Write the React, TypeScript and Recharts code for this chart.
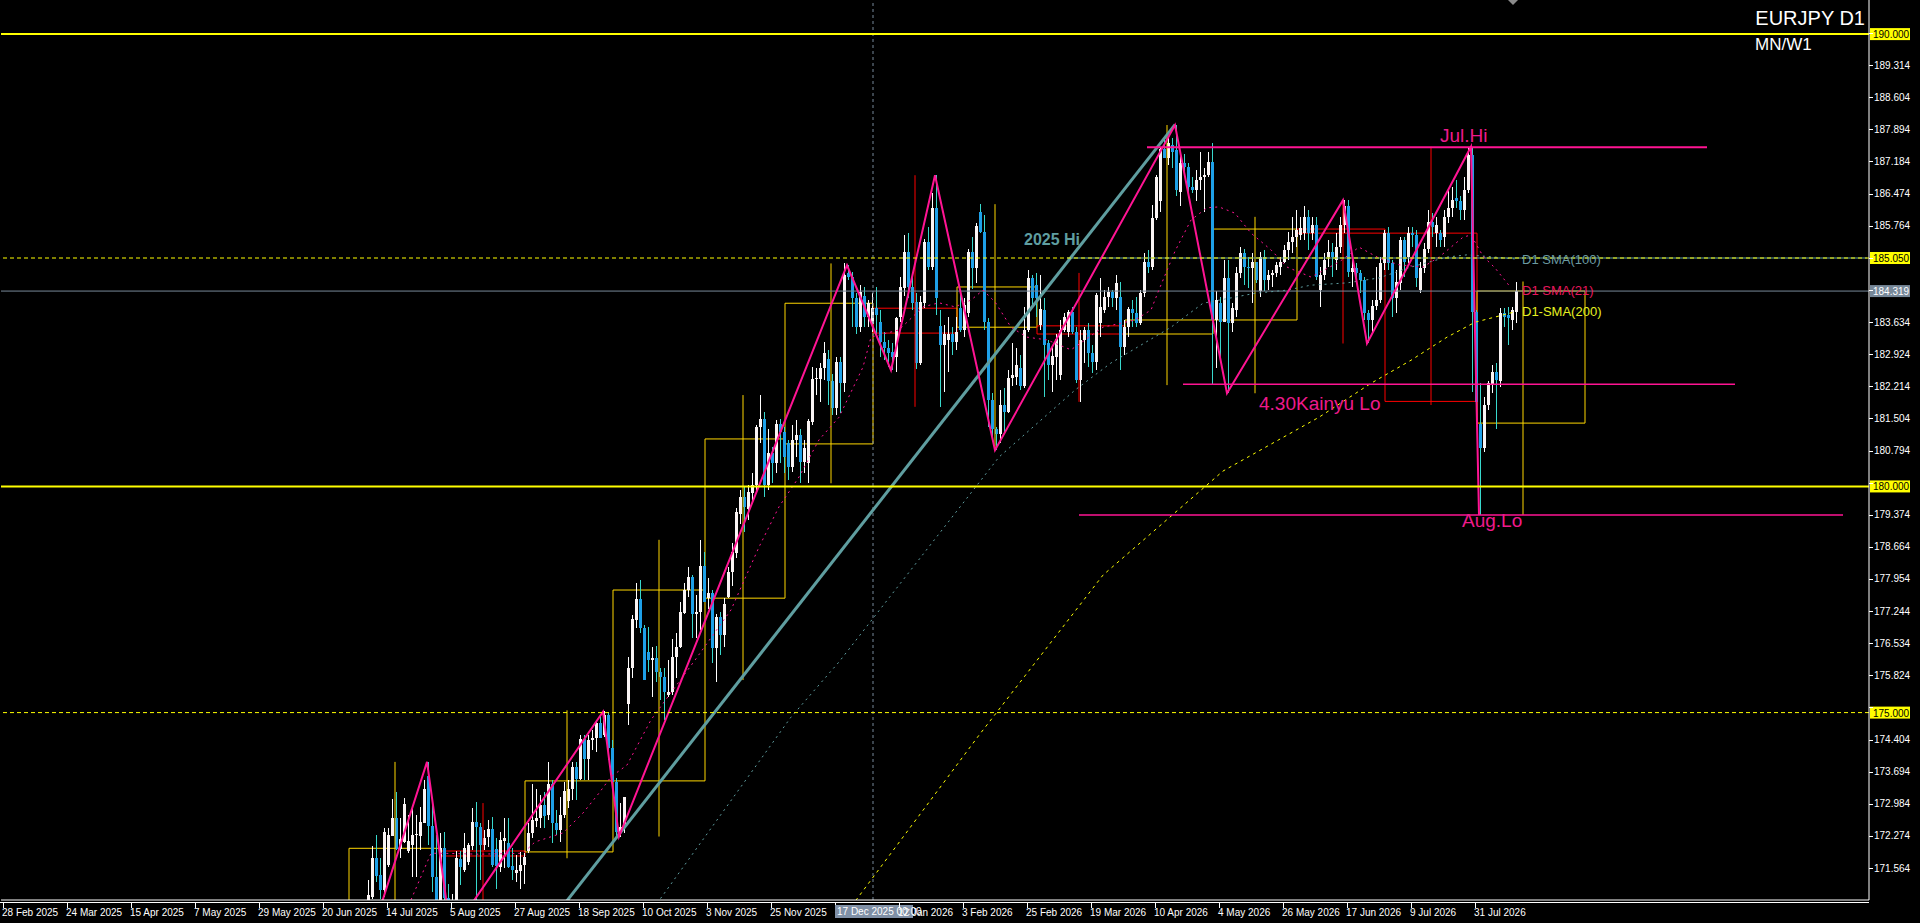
import React from "react";
import { ComposedChart, Bar, Line, XAxis, YAxis, ReferenceLine, ReferenceArea, ReferenceDot } from "recharts";

// ---------- DATA ----------
const FIRST_BAR = 91; // bar index of the first visible daily candle (28 Feb 2025 = 0)
const TOTAL_SLOTS = 467;

// [open, high, low, close] per daily bar, starting at FIRST_BAR
const candles: [number, number, number, number][] = [
  [170.86,171.31,170.80,170.97],[170.93,172.04,170.89,171.79],[171.79,172.29,171.26,171.39],[171.41,171.79,170.89,171.08],
  [171.08,172.44,170.93,172.37],[171.63,172.44,171.59,172.29],[172.27,173.10,172.27,172.66],[172.66,173.25,171.96,171.99],
  [171.99,172.66,171.78,172.20],[172.15,173.12,172.11,172.98],[171.93,172.73,171.89,172.16],[172.07,172.92,171.37,172.29],
  [172.29,172.73,171.37,172.31],[172.28,172.92,171.96,172.59],[172.57,173.51,172.55,173.32],[173.60,173.91,172.07,172.50],
  [172.50,173.07,171.04,171.37],[171.37,172.29,170.60,170.80],[170.86,172.33,170.70,172.00],[172.00,172.37,170.60,170.90],
  [170.90,171.20,170.00,170.30],[170.30,171.00,169.90,170.70],[170.70,171.93,170.50,171.78],[171.76,171.93,171.19,171.59],
  [171.52,172.33,171.48,172.00],[171.70,172.11,171.63,172.07],[172.06,172.88,171.96,172.59],[172.59,173.02,170.86,172.48],
  [172.48,172.55,171.30,172.07],[172.07,172.41,171.96,172.23],[172.24,172.62,172.03,172.42],[172.42,172.70,171.59,171.63],
  [171.98,172.22,171.11,171.61],[171.59,172.37,171.48,172.18],[172.17,172.66,171.56,172.23],[172.11,172.66,171.56,171.59],
  [171.61,172.00,171.30,171.53],[171.45,171.85,171.26,171.52],[171.50,171.92,171.11,171.64],[171.64,171.89,171.22,171.81],
  [171.94,172.55,171.89,172.33],[172.33,173.42,172.22,172.62],[172.61,173.32,172.48,172.68],[172.66,173.18,172.44,172.96],
  [172.96,173.25,172.44,172.71],[172.73,173.91,172.62,173.42],[173.42,173.51,172.11,172.55],[172.55,172.84,172.29,172.40],
  [172.40,173.14,172.15,172.73],[172.73,173.47,172.66,173.27],[173.05,173.51,172.88,173.32],[173.30,173.91,173.07,173.79],
  [173.79,173.91,173.07,173.53],[173.53,174.50,173.51,174.41],[174.41,174.50,173.51,173.97],[173.97,174.50,173.51,174.39],
  [174.39,174.61,174.17,174.43],[174.43,174.84,174.14,174.78],[174.78,174.95,174.44,174.44],[174.50,175.04,174.47,174.95],
  [174.95,175.02,173.95,174.21],[174.21,174.39,173.44,173.47],[173.47,173.55,172.26,172.37],[172.37,173.00,172.26,172.48],
  [172.48,173.13,172.33,173.13],[175.20,176.24,174.72,175.98],[175.98,177.16,175.76,177.07],[177.05,177.86,176.86,177.51],
  [177.51,177.93,176.75,176.86],[176.86,176.93,175.72,175.72],[176.35,176.90,175.90,176.16],[176.16,176.46,175.35,176.20],
  [176.20,176.47,175.68,175.90],[175.90,175.98,175.28,175.79],[175.79,175.98,174.84,175.46],[175.39,176.16,175.35,175.46],
  [175.46,176.62,175.39,176.24],[176.24,176.75,175.76,176.46],[176.44,177.45,176.42,177.23],[177.21,177.86,177.19,177.72],
  [177.71,178.22,177.56,178.00],[178.00,178.04,176.64,177.19],[177.19,177.60,176.64,177.23],[177.23,178.82,176.83,178.24],
  [178.24,178.56,177.45,177.45],[177.53,177.97,177.30,177.64],[177.64,177.71,176.09,176.42],[176.42,177.19,175.68,177.12],
  [177.12,177.23,176.27,176.72],[176.72,177.53,176.46,177.40],[177.56,178.22,177.53,178.11],[178.11,178.74,177.80,178.56],
  [178.52,179.52,178.41,179.44],[179.40,179.92,179.18,179.77],[179.77,179.99,179.00,179.55],[179.51,180.03,179.26,179.88],
  [179.85,180.30,179.63,180.03],[180.03,181.36,179.85,181.32],[181.32,182.02,180.95,181.50],[181.50,181.65,179.77,180.03],
  [180.03,181.28,179.92,180.73],[180.73,180.88,180.07,180.51],[180.51,181.47,180.29,181.39],[181.39,181.50,180.51,181.21],
  [181.21,181.32,180.29,180.66],[180.95,181.02,180.14,180.44],[180.44,181.36,180.33,181.02],[181.02,181.47,180.66,181.13],
  [181.13,181.28,180.07,180.55],[180.55,181.02,180.29,180.84],[180.51,181.50,180.07,181.45],[181.43,182.65,181.36,182.37],
  [182.37,182.61,182.02,182.39],[182.37,182.72,181.87,182.61],[182.61,183.20,182.35,182.94],[182.81,183.02,181.80,182.34],
  [182.34,182.48,181.58,181.73],[181.73,182.87,181.58,182.76],[182.76,182.87,181.62,182.28],[182.28,184.93,182.09,184.67],
  [184.71,184.89,184.56,184.64],[184.64,184.75,183.53,184.16],[184.16,184.27,183.38,183.53],[183.53,184.45,183.42,184.30],
  [184.20,184.42,183.53,183.75],[183.75,184.12,183.53,184.05],[183.60,184.27,183.42,183.94],[183.94,184.42,183.31,183.79],
  [183.64,183.90,182.87,183.20],[183.20,183.42,182.79,183.05],[183.05,183.24,182.65,182.94],[182.98,183.16,182.57,182.87],
  [182.87,183.75,182.54,183.72],[183.75,184.64,183.64,184.42],[184.38,185.56,184.20,185.19],[185.19,185.60,184.16,184.42],
  [184.42,184.64,183.90,184.05],[184.08,184.27,182.60,182.72],[182.72,184.20,182.68,184.08],[184.05,185.48,183.94,185.41],
  [185.41,185.74,184.78,184.86],[184.86,186.48,184.78,186.15],[186.15,186.88,183.79,184.16],[183.55,183.90,181.76,183.13],
  [183.13,183.57,182.09,183.38],[183.24,183.75,182.54,183.38],[183.38,183.53,182.90,183.20],[183.20,183.75,183.02,183.42],
  [183.94,184.27,183.42,183.46],[183.46,184.16,183.30,184.01],[183.83,185.26,183.75,185.19],[185.19,185.52,184.36,184.82],
  [184.82,185.82,184.49,185.76],[186.07,186.24,185.60,185.63],[185.63,186.00,183.46,183.64],[183.64,183.72,181.32,181.91],
  [181.91,182.06,181.10,181.28],[181.28,181.32,180.80,181.17],[181.17,182.13,180.95,181.80],[181.80,182.17,181.17,181.65],
  [181.65,182.57,181.62,182.39],[182.39,183.16,182.21,182.46],[182.42,183.05,182.24,182.68],[182.61,182.91,182.13,182.21],
  [182.21,183.97,182.17,183.46],[183.46,184.78,183.42,184.60],[184.60,184.67,183.97,184.16],[184.45,184.71,183.75,184.16],
  [183.57,184.67,183.46,183.92],[183.90,184.16,181.98,183.13],[183.16,183.24,182.35,182.68],[182.68,183.13,182.09,182.88],
  [182.87,183.38,182.35,183.25],[182.46,183.68,182.35,183.46],[183.46,183.83,183.42,183.75],[183.42,183.90,183.31,183.85],
  [183.85,183.97,183.38,183.42],[183.42,183.53,182.28,182.35],[182.35,183.46,181.87,183.24],[183.24,183.53,182.72,183.46],
  [183.46,183.61,182.65,182.94],[182.94,183.12,182.50,182.76],[182.76,184.27,182.57,184.23],[183.61,184.60,183.31,183.97],
  [183.90,184.34,183.83,184.19],[184.19,184.42,183.97,184.30],[184.30,184.34,183.97,184.16],[184.16,184.67,183.90,184.49],
  [184.19,184.53,182.57,183.09],[183.09,183.68,182.90,183.53],[183.53,183.97,183.31,183.93],[183.93,184.12,183.53,183.83],
  [183.83,184.19,183.53,183.61],[183.61,184.34,183.58,184.27],[184.27,185.15,184.19,184.97],[184.97,185.23,184.71,184.86],
  [184.86,186.22,184.79,185.93],[185.93,186.88,185.89,186.85],[186.30,187.51,186.07,187.47],[187.47,187.70,187.25,187.25],
  [187.25,187.70,187.11,187.59],[187.55,187.70,187.03,187.40],[187.44,187.99,186.41,186.55],[186.50,187.30,186.20,187.16],
  [187.16,187.36,186.85,187.07],[187.07,187.14,186.41,186.63],[186.63,186.85,186.48,186.55],[186.55,186.99,186.30,186.77],
  [186.77,187.40,186.55,186.85],[186.85,187.03,186.07,186.88],[186.88,187.40,186.85,187.18],[187.18,187.59,182.24,183.68],
  [183.68,184.31,182.61,184.12],[184.05,184.19,182.79,183.64],[183.64,185.01,183.64,184.60],[184.60,185.01,182.06,183.61],
  [183.61,184.05,183.42,183.94],[183.90,184.86,183.75,184.71],[184.71,185.30,184.60,185.15],[185.15,185.26,184.45,184.86],
  [184.86,185.08,184.38,184.82],[184.82,185.15,184.05,184.97],[184.97,184.97,184.49,184.56],[184.31,185.19,184.19,185.08],
  [185.08,185.23,184.31,184.56],[184.56,184.79,184.34,184.67],[184.67,184.79,184.42,184.71],[184.71,184.97,184.64,184.90],
  [184.86,185.08,184.67,184.97],[184.97,185.34,184.93,185.23],[185.23,185.63,185.01,185.41],[185.41,185.96,185.15,185.52],
  [185.52,186.11,185.30,185.67],[185.56,185.96,185.45,185.71],[185.60,186.19,185.45,185.96],[185.96,186.11,185.23,185.60],
  [185.60,185.96,185.45,185.78],[185.78,185.96,184.56,184.64],[184.34,184.86,183.97,184.67],[184.67,185.15,184.56,185.01],
  [185.08,185.45,184.86,185.19],[185.19,185.38,184.64,185.08],[185.01,185.60,184.78,185.30],[185.30,185.96,185.15,185.78],
  [185.78,186.33,185.60,186.19],[186.19,186.33,184.64,184.75],[184.75,185.08,184.42,184.82],[184.82,184.93,184.49,184.71],
  [184.71,184.78,184.27,184.56],[184.56,184.64,183.68,183.83],[183.83,183.90,183.16,183.68],[183.68,184.12,183.38,184.00],
  [184.00,184.86,183.90,184.12],[184.12,185.08,184.05,184.93],[184.93,185.67,184.78,185.60],[185.60,185.74,184.78,184.93],
  [184.93,185.01,183.75,184.16],[184.16,184.78,183.83,184.52],[184.49,185.52,184.34,185.45],[185.45,185.52,184.64,184.97],
  [185.08,185.74,184.93,185.60],[185.60,185.74,185.30,185.56],[185.56,185.67,184.42,184.60],[184.34,184.97,184.27,184.82],
  [184.82,185.38,184.71,185.26],[185.26,186.11,185.15,185.85],[185.85,186.04,185.52,185.74],[185.60,185.96,185.30,185.78],
  [185.60,185.67,185.30,185.45],[185.52,186.11,185.30,185.96],[185.96,186.55,185.82,186.15],[186.15,186.63,185.96,186.33],
  [186.37,186.77,186.15,186.30],[186.30,186.41,185.89,186.11],[186.11,186.85,185.89,186.55],[186.55,187.51,186.48,187.33],
  [187.33,187.51,182.09,183.86],[183.86,183.90,181.80,181.87],[181.39,182.28,179.37,180.84],[180.84,181.98,180.77,181.80],
  [181.80,182.32,181.70,182.28],[182.24,182.68,182.06,182.54],[182.54,182.72,181.28,182.35],[182.32,183.94,182.20,183.83],
  [183.83,183.94,183.53,183.75],[183.80,183.97,183.13,183.72],[183.68,183.97,183.46,183.90],[183.86,184.53,183.61,184.32],
];

const xTickIndex = [0,16,32,48,64,80,96,112,128,144,160,176,192,208,224,240,256,272,288,304,320,336,352,368];
const xTickLabels = ["28 Feb 2025","24 Mar 2025","15 Apr 2025","7 May 2025","29 May 2025","20 Jun 2025","14 Jul 2025","5 Aug 2025","27 Aug 2025","18 Sep 2025","10 Oct 2025","3 Nov 2025","25 Nov 2025","17 Dec 2025","12 Jan 2026","3 Feb 2026","25 Feb 2026","19 Mar 2026","10 Apr 2026","4 May 2026","26 May 2026","17 Jun 2026","9 Jul 2026","31 Jul 2026"];
const cursorTickIndex = 208;
const cursorLabel = "17 Dec 2025 00:00";

const yTicks = [190.024,189.314,188.604,187.894,187.184,186.474,185.764,185.054,184.344,183.634,182.924,182.214,181.504,180.794,180.084,179.374,178.664,177.954,177.244,176.534,175.824,175.114,174.404,173.694,172.984,172.274,171.564];
const yDomain = [170.857, 190.754];

// [bar index, value]
const sma21: [number, number][] = [
  [102,170.86],[107,171.89],[110,171.89],[119,171.87],[130,171.89],[133,172.14],[140,172.34],[145,172.78],[149,173.22],
  [152,173.58],[156,173.84],[162,174.84],[173,176.16],[182,177.27],[189,178.66],[194,179.55],[199,180.21],[204,181.03],
  [209,181.53],[215,182.64],[217,183.30],[224,183.46],[230,183.97],[234,184.06],[238,183.97],[242,184.12],[245,184.34],
  [248,184.08],[252,183.52],[256,183.30],[261,183.24],[267,183.02],[275,183.52],[283,183.68],[287,183.90],[289,184.35],
  [293,185.20],[297,185.89],[301,186.16],[304,186.18],[308,186.04],[312,185.60],[317,185.23],[321,184.85],[327,184.63],
  [334,184.96],[339,185.29],[344,185.05],[349,184.90],[355,184.85],[359,185.07],[365,185.51],[367,185.56],[370,185.09],
  [373,184.83],[377,184.39],
];
const sma100: [number, number][] = [
  [160,170.35],[197,174.90],[209,176.12],[249,180.65],[268,182.13],[277,182.73],[292,183.52],[300,184.05],[313,184.27],
  [321,184.34],[327,184.45],[336,184.50],[344,184.61],[352,184.85],[361,185.07],[366,185.12],[373,185.07],[378,185.03],
];
const sma200: [number, number][] = [
  [209,170.35],[244,174.50],[275,178.04],[305,180.34],[329,181.53],[342,182.28],[352,182.79],[361,183.30],[368,183.63],[378,183.86],
];
const zigzag: [number, number][] = [
  [92,170.05],[106,173.91],[112,170.10],[150,175.02],[154,172.26],[211,184.89],[222,182.57],[233,186.88],
  [248,180.80],[293,187.99],[306,182.06],[335,186.33],[341,183.16],[367,187.51],[369,179.37],
];
const trendline: [number, number][] = [[130,169.60],[293,188.00]];

const solidLevels = [190.0, 180.0];
const dashedLevels = [185.05, 175.0];
const bidPrice = 184.319;
const smaLevel = { price: 185.05, from: 266, to: 466 };
const separatorIndex = 218;

// monthly (MN) candles: first bar, last bar, wick bar, open, high, low, close
const monthBoxes = [
  { first: 87, last: 109, wick: 98, o: 169.30, h: 173.91, l: 168.90, c: 172.00 },
  { first: 110, last: 130, wick: 120, o: 171.94, h: 173.00, l: 169.90, c: 171.83 },
  { first: 131, last: 152, wick: 141, o: 171.92, h: 175.05, l: 171.78, c: 173.49 },
  { first: 153, last: 175, wick: 164, o: 173.49, h: 178.82, l: 172.26, c: 177.71 },
  { first: 176, last: 195, wick: 185, o: 177.53, h: 182.02, l: 175.72, c: 181.05 },
  { first: 196, last: 217, wick: 207, o: 180.94, h: 184.93, l: 180.07, c: 184.05 },
  { first: 218, last: 238, wick: 228, o: 183.94, h: 186.88, l: 181.76, c: 183.39 },
  { first: 239, last: 258, wick: 248, o: 183.52, h: 186.24, l: 180.80, c: 184.41 },
  { first: 259, last: 280, wick: 269, o: 183.55, h: 184.72, l: 181.87, c: 183.37 },
  { first: 281, last: 302, wick: 291, o: 183.37, h: 187.99, l: 182.24, c: 183.68 },
  { first: 303, last: 323, wick: 313, o: 183.68, h: 185.96, l: 182.06, c: 185.69 },
  { first: 324, last: 345, wick: 335, o: 185.69, h: 186.33, l: 183.16, c: 185.60 },
  { first: 346, last: 368, wick: 357, o: 185.60, h: 187.51, l: 181.80, c: 181.88 },
  { first: 369, last: 395, wick: 380, o: 181.40, h: 184.53, l: 179.37, c: 184.32 },
];

const pinkLevels = [
  { name: "Jul.Hi", price: 187.50, from: 286, to: 426, labelAt: 359 },
  { name: "4.30Kainyu Lo", price: 182.26, from: 295, to: 433, labelAt: 314 },
  { name: "Aug.Lo", price: 179.37, from: 269, to: 460, labelAt: 365 },
];
const hiLabel = { name: "2025 Hi", price: 185.05, at: 255 };
const smaLabels = [
  { name: "D1 SMA(100)", price: 185.03, at: 380 },
  { name: "D1 SMA(21)", price: 184.34, at: 380 },
  { name: "D1-SMA(200)", price: 183.87, at: 380 },
];

// ---------- BUILD TABLE ----------
const rows: any[] = Array.from({ length: TOTAL_SLOTS }, (_, i) => ({ i }));
candles.forEach((c, k) => {
  const r = rows[FIRST_BAR + k];
  r.o = c[0]; r.h = c[1]; r.l = c[2]; r.c = c[3];
});
sma21.forEach(([i, v]) => { rows[i].sma21 = v; });
sma100.forEach(([i, v]) => { rows[i].sma100 = v; });
sma200.forEach(([i, v]) => { rows[i].sma200 = v; });
zigzag.forEach(([i, v]) => { rows[i].zig = v; });
trendline.forEach(([i, v]) => { rows[i].trend = v; });

const taggedLevels = [...solidLevels, ...dashedLevels, bidPrice];

// ---------- STYLE ----------
const FONT = "'Liberation Sans', Arial, sans-serif";
const BULL_BODY = "#FAF4F4";
const BULL_WICK = "#FFFFFF";
const BEAR_BODY = "#1EA0E8";
const BEAR_WICK = "#38D8CC";
const PINK = "#FF1493";
const PINK_TEXT = "#EE1A8C";
const GOLD = "#FFD700";
const TEAL = "#5F9EA0";

const CandleShape = (props: any) => {
  const { x, y, width, height, payload } = props;
  if (!payload || payload.h == null || x == null) return null;
  const { o, h, l, c } = payload;
  const top = Math.min(y, y + height);
  const span = Math.abs(height);
  const toY = (v: number) => (h - l > 0 ? top + ((h - v) / (h - l)) * span : top);
  const up = c >= o;
  const cx = Math.round(x + width / 2);
  const bTop = Math.round(toY(Math.max(o, c)));
  const bBot = Math.round(toY(Math.min(o, c)));
  return (
    <g shapeRendering="crispEdges">
      <line x1={cx + 0.5} x2={cx + 0.5} y1={top} y2={top + span} stroke={up ? BULL_WICK : BEAR_WICK} strokeWidth={1} />
      <rect x={cx - 1} y={bTop} width={3} height={Math.max(1, bBot - bTop)} fill={up ? BULL_BODY : BEAR_BODY} />
    </g>
  );
};

const XTick = (props: any) => {
  const { x, y, payload } = props;
  const k = xTickIndex.indexOf(payload.value);
  const label = xTickLabels[k];
  return (
    <g>
      <line x1={x + 0.5} x2={x + 0.5} y1={y + 3} y2={y + 8} stroke="#fff" shapeRendering="crispEdges" />
      {payload.value === cursorTickIndex ? (
        <g>
          <rect x={x} y={y + 5} width={78} height={13} fill="#8090A6" />
          <text x={x + 2} y={y + 15} fill="#fff" fontSize={10} fontFamily={FONT}>{cursorLabel}</text>
        </g>
      ) : (
        <text x={x - 1} y={y + 16} fill="#fff" fontSize={10} fontFamily={FONT}>{label}</text>
      )}
    </g>
  );
};

const YTick = (props: any) => {
  const { x, y, payload } = props;
  const hidden = taggedLevels.some((t) => Math.abs(t - payload.value) < 0.12);
  return (
    <g>
      <line x1={x} x2={x + 4} y1={Math.round(y) + 0.5} y2={Math.round(y) + 0.5} stroke="#fff" shapeRendering="crispEdges" />
      {hidden ? null : (
        <text x={x + 5} y={y + 3.5} fill="#fff" fontSize={10} fontFamily={FONT}>{payload.value.toFixed(3)}</text>
      )}
    </g>
  );
};

const priceTag = (value: number, bg: string, fg: string) => (props: any) => {
  const vb = props.viewBox || {};
  const px = vb.x + vb.width + 1;
  const py = vb.y;
  return (
    <g>
      <rect x={px} y={py - 6} width={40} height={12} fill={bg} />
      <text x={px + 3} y={py + 4} fill={fg} fontSize={10} fontFamily={FONT}>{value.toFixed(3)}</text>
    </g>
  );
};

const textShape = (text: string, color: string, size: number, dx: number, dy: number, bold = false) => (p: any) => (
  <text x={p.cx + dx} y={p.cy + dy} fill={color} fontSize={size} fontFamily={FONT} fontWeight={bold ? "bold" : "normal"}>
    {text}
  </text>
);

export default function App() {
  return (
    <div style={{ position: "fixed", left: 0, top: 0, width: 1920, height: 923, background: "#000", overflow: "hidden" }}>
      <ComposedChart width={1920} height={923} data={rows} margin={{ top: 0, right: 0, bottom: 0, left: 1 }}>
        <XAxis
          dataKey="i"
          type="category"
          ticks={xTickIndex}
          interval={0}
          height={23}
          tickSize={0}
          tickMargin={0}
          tickLine={false}
          axisLine={{ stroke: "#fff" }}
          tick={<XTick />}
        />
        <YAxis
          orientation="right"
          width={51}
          domain={yDomain}
          allowDataOverflow
          ticks={yTicks}
          interval={0}
          tickSize={0}
          tickMargin={0}
          tickLine={false}
          axisLine={{ stroke: "#fff" }}
          tick={<YTick />}
        />

        {monthBoxes.map((m, k) => {
          const col = m.c >= m.o ? GOLD : "#FF0000";
          return (
            <ReferenceArea key={"mb" + k} x1={m.first} x2={m.last} y1={Math.min(m.o, m.c)} y2={Math.max(m.o, m.c)}
              fill="none" fillOpacity={0} stroke={col} strokeWidth={1} ifOverflow="hidden" />
          );
        })}
        {monthBoxes.map((m, k) => (
          <ReferenceLine key={"mw" + k} segment={[{ x: m.wick, y: m.l }, { x: m.wick, y: m.h }]}
            stroke={m.c >= m.o ? GOLD : "#FF0000"} strokeWidth={1} ifOverflow="hidden" />
        ))}

        <ReferenceLine x={separatorIndex} position="start" stroke="#778899" strokeDasharray="3 3" />
        <ReferenceLine segment={[{ x: smaLevel.from, y: smaLevel.price }, { x: smaLevel.to, y: smaLevel.price }]} stroke={TEAL} strokeWidth={1} />
        <ReferenceLine y={bidPrice} stroke="#778899" strokeWidth={1} label={priceTag(bidPrice, "#778899", "#fff")} />

        <Line dataKey="sma200" stroke="#FFFF00" strokeWidth={1} strokeDasharray="3 4" dot={false} connectNulls isAnimationActive={false} />
        <Line dataKey="sma100" stroke={TEAL} strokeWidth={1} strokeDasharray="2 4" dot={false} connectNulls isAnimationActive={false} />
        <Line dataKey="sma21" stroke={PINK} strokeWidth={1} strokeDasharray="2 4" dot={false} connectNulls isAnimationActive={false} />

        <Bar
          dataKey={(r: any) => (r.h != null ? [r.l, r.h] : null)}
          barSize={3}
          shape={CandleShape}
          isAnimationActive={false}
        />

        <Line dataKey="trend" stroke={TEAL} strokeWidth={3} dot={false} connectNulls isAnimationActive={false} />
        <Line dataKey="zig" stroke={PINK} strokeWidth={2} dot={false} connectNulls isAnimationActive={false} />

        {solidLevels.map((p) => (
          <ReferenceLine key={"sl" + p} y={p} stroke="#FFFF00" strokeWidth={2} label={priceTag(p, "#FFFF00", "#000")} />
        ))}
        {dashedLevels.map((p) => (
          <ReferenceLine key={"dl" + p} y={p} stroke="#FFFF00" strokeWidth={1} strokeDasharray="4 3" label={priceTag(p, "#FFFF00", "#000")} />
        ))}

        {pinkLevels.map((lv, k) => (
          <ReferenceLine key={"pl" + k} segment={[{ x: lv.from, y: lv.price }, { x: lv.to, y: lv.price }]}
            stroke={PINK} strokeWidth={k === 0 ? 2 : 1.5} />
        ))}
        <ReferenceDot x={pinkLevels[0].labelAt} y={pinkLevels[0].price} r={1} shape={textShape(pinkLevels[0].name, PINK_TEXT, 19, 1, -5)} />
        <ReferenceDot x={pinkLevels[1].labelAt} y={pinkLevels[1].price} r={1} shape={textShape(pinkLevels[1].name, PINK_TEXT, 19, 0, 26)} />
        <ReferenceDot x={pinkLevels[2].labelAt} y={pinkLevels[2].price} r={1} shape={textShape(pinkLevels[2].name, PINK_TEXT, 19, -1, 12)} />
        <ReferenceDot x={hiLabel.at} y={hiLabel.price} r={1} shape={textShape(hiLabel.name, TEAL, 16, 1, -13, true)} />
        <ReferenceDot x={smaLabels[0].at} y={smaLabels[0].price} r={1} shape={textShape(smaLabels[0].name, "#6A9AA0", 13, -1, 5)} />
        <ReferenceDot x={smaLabels[1].at} y={smaLabels[1].price} r={1} shape={textShape(smaLabels[1].name, "#E8175D", 13, -1, 5)} />
        <ReferenceDot x={smaLabels[2].at} y={smaLabels[2].price} r={1} shape={textShape(smaLabels[2].name, "#E6F020", 13, -1, 5)} />
      </ComposedChart>

      <svg width={1920} height={923} style={{ position: "absolute", left: 0, top: 0, pointerEvents: "none" }}>
        <line x1={0} x2={1869} y1={902.5} y2={902.5} stroke="#fff" />
        <polygon points="1508,0 1518,0 1513,5" fill="#8a8a8a" />
        <text x={1865} y={25} textAnchor="end" fill="#fff" fontSize={20} fontFamily={FONT}>EURJPY D1</text>
        <text x={1755} y={50} fill="#fff" fontSize={17} fontFamily={FONT}>MN/W1</text>
      </svg>
    </div>
  );
}
